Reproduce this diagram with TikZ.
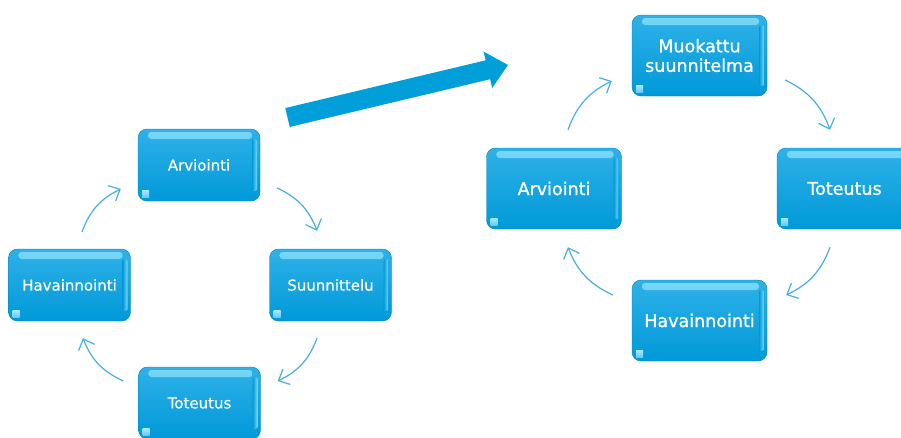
\documentclass[tikz,border=0pt]{standalone}
\usepackage{fontspec}
\setmainfont{DejaVu Sans}
\newfontfamily\semibold[FakeBold=1.1]{DejaVu Sans}
\newfontfamily\softbold[FakeBold=0.4]{DejaVu Sans}
\usetikzlibrary{arrows.meta}
\definecolor{boxtop}{HTML}{2FB1E8}
\definecolor{boxbot}{HTML}{0099D8}
\definecolor{bigarrow}{HTML}{009FD9}
\definecolor{cyc}{HTML}{45B1E0}
\definecolor{hilite}{HTML}{7AD8F7}
\tikzset{
  x=1pt, y=-1pt,
  glossbox/.style={
    rounded corners=9pt, inner sep=0pt, text=white, align=center,
    top color=boxtop, bottom color=boxbot, middle color=boxbot!50!boxtop,
    draw=boxbot!85!black, line width=0.4pt,
    path picture={
      \shade[top color=hilite, bottom color=boxtop, rounded corners=3pt]
        ([xshift=10pt,yshift=-3pt]path picture bounding box.north west)
        rectangle ([xshift=-8pt,yshift=-10pt]path picture bounding box.north east);
      \shade[left color=boxbot, right color=hilite, rounded corners=2pt]
        ([xshift=-8pt,yshift=-10pt]path picture bounding box.north east)
        rectangle ([xshift=-3pt,yshift=10pt]path picture bounding box.south east);
      \shade[sharp corners, top color=hilite!60!white, bottom color=hilite!70!boxtop]
        ([xshift=4pt,yshift=4pt]path picture bounding box.south west)
        rectangle ([xshift=11pt,yshift=11pt]path picture bounding box.south west);
    }},
  smallbox/.style={glossbox, minimum width=122pt, minimum height=72pt,
    font=\softbold\fontsize{15}{18}\selectfont},
  bigbox/.style={glossbox, minimum width=135pt, minimum height=81pt,
    font=\semibold\fontsize{17.5}{19.5}\selectfont},
  cycarrow/.style={draw=cyc, line width=1.2pt,
    -{Straight Barb[length=9pt,width=17pt,line width=1.2pt]}, bend left=22}
}
\begin{document}
\begin{tikzpicture}
\clip (0,0) rectangle (901,437);
\fill[white] (0,0) rectangle (901,437);

% big arrow
\begin{scope}[shift={(287.5,117.5)}, rotate=13.4]
  \fill[bigarrow] (0,-9.7) -- (206,-9.7) -- (206,-18.7) -- (226.7,0)
    -- (206,18.7) -- (206,9.7) -- (0,9.7) -- cycle;
\end{scope}

% left cycle
\node[smallbox] (a1) at (199,165) {Arviointi};
\node[smallbox] (h1) at (69.5,285) {Havainnointi};
\node[smallbox] (s1) at (330.5,285) {Suunnittelu};
\node[smallbox] (t1) at (199.5,403) {Toteutus};

\draw[cycarrow] ([shift={(12.5,-17)}]h1.north) to ([shift={(-17,24)}]a1.west);
\draw[cycarrow] ([shift={(17,23)}]a1.east) to ([shift={(-13.5,-18)}]s1.north);
\draw[cycarrow] ([shift={(-13.5,17)}]s1.south) to ([shift={(17,-22)}]t1.east);
\draw[cycarrow] ([shift={(-15,-22)}]t1.west) to ([shift={(13.5,17)}]h1.south);

% right cycle
\node[bigbox] (m2) at (699.5,55.5) {Muokattu\\suunnitelma};
\node[bigbox] (a2) at (554,188.5) {Arviointi};
\node[bigbox] (t2) at (844.5,188.5) {Toteutus};
\node[bigbox] (h2) at (699.5,320.5) {Havainnointi};

\draw[cycarrow] ([shift={(14,-18)}]a2.north) to ([shift={(-20,25.5)}]m2.west);
\draw[cycarrow] ([shift={(18,24.5)}]m2.east) to ([shift={(-14.5,-18)}]t2.north);
\draw[cycarrow] ([shift={(-14.5,18)}]t2.south) to ([shift={(19,-25.5)}]h2.east);
\draw[cycarrow] ([shift={(-19,-25.5)}]h2.west) to ([shift={(14,18)}]a2.south);
\end{tikzpicture}
\end{document}
